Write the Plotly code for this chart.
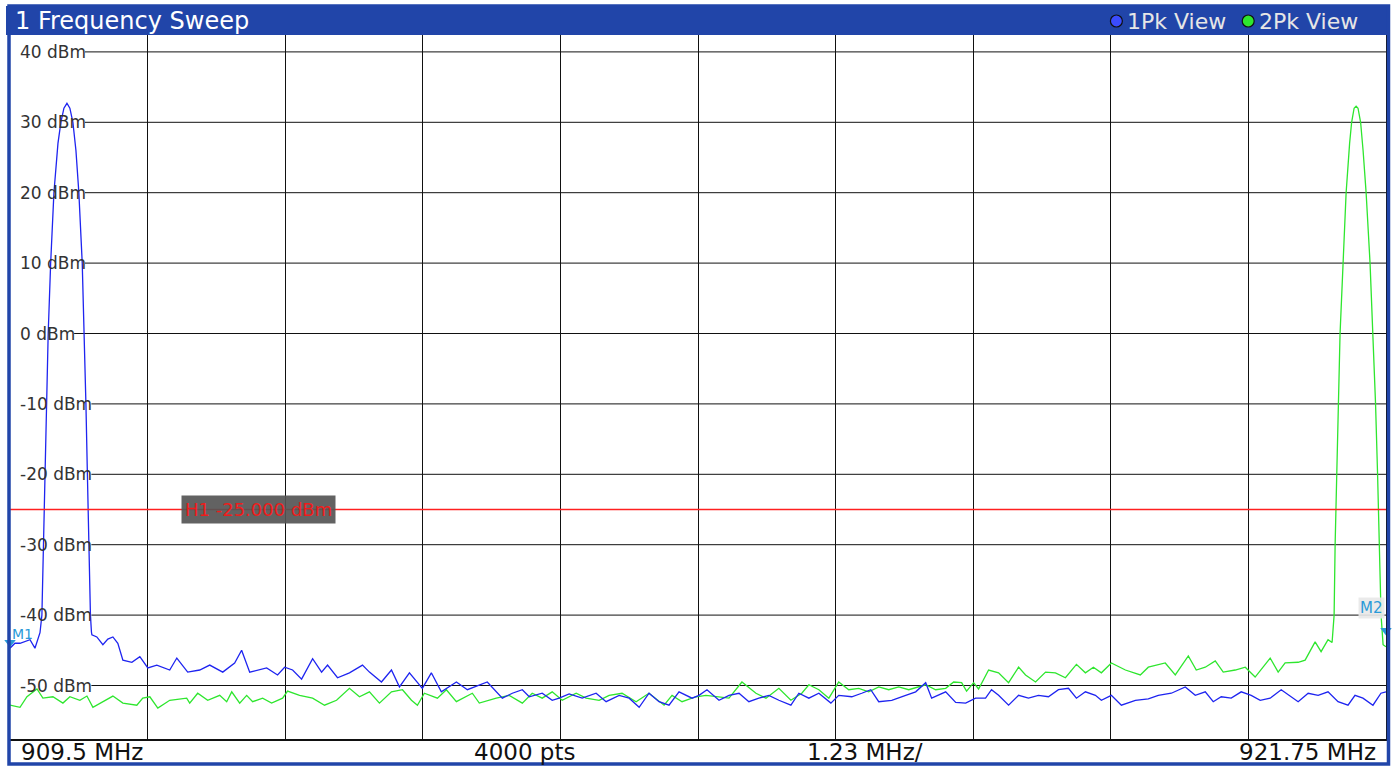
import plotly.graph_objects as go

# ---------------- data ----------------
f_start_mhz = 909.5
f_stop_mhz = 921.75
f_div_mhz = 1.225
y_min_dbm = -57.6
y_max_dbm = 42.4

y_tick_values = [40, 30, 20, 10, 0, -10, -20, -30, -40, -50]
y_tick_labels = [f"{v} dBm" for v in y_tick_values]

footer_labels = ["909.5 MHz", "4000 pts", "1.23 MHz/", "921.75 MHz"]
title_text = "1 Frequency Sweep"
trace_names = ["1Pk View", "2Pk View"]

h1_level_dbm = -25.0
h1_label = "H1 -25.000 dBm"

blue_freq_mhz = [
    909.500, 909.544, 909.589, 909.633, 909.678, 909.722, 909.758, 909.767, 909.784, 909.798,
    909.811, 909.820, 909.840, 909.862, 909.891, 909.927, 909.953, 909.980, 910.007, 910.033,
    910.060, 910.087, 910.113, 910.143, 910.161, 910.176, 910.189, 910.202, 910.216, 910.225,
    910.229, 910.273, 910.327, 910.371, 910.416, 910.460, 910.505, 910.585, 910.656, 910.727,
    910.807, 910.922, 910.985, 911.082, 911.189, 911.278, 911.394, 911.500, 911.562, 911.634,
    911.785, 911.882, 911.945, 912.016, 912.096, 912.194, 912.274, 912.327, 912.416, 912.522,
    912.638, 912.700, 912.807, 912.896, 912.967, 913.056, 913.171, 913.251, 913.340, 913.474,
    913.572, 913.749, 913.883, 913.972, 914.061, 914.123, 914.238, 914.327, 914.389, 914.478,
    914.594, 914.718, 914.807, 914.923, 915.012, 915.101, 915.189, 915.278, 915.367, 915.456,
    915.572, 915.634, 915.705, 915.812, 915.901, 915.990, 916.078, 916.167, 916.256, 916.345,
    916.452, 916.523, 916.612, 916.701, 916.808, 916.878, 916.994, 917.083, 917.163, 917.234,
    917.350, 917.474, 917.563, 917.652, 917.705, 917.830, 917.919, 918.008, 918.096, 918.185,
    918.238, 918.301, 918.390, 918.479, 918.567, 918.656, 918.745, 918.834, 918.923, 918.994,
    919.074, 919.163, 919.216, 919.305, 919.394, 919.519, 919.634, 919.723, 919.839, 919.963,
    920.052, 920.141, 920.212, 920.283, 920.372, 920.461, 920.550, 920.630, 920.719, 920.817,
    920.906, 920.968, 921.057, 921.146, 921.234, 921.323, 921.412, 921.474, 921.545, 921.634,
    921.705, 921.750,
]
blue_level_dbm = [
    -44.7, -44.0, -44.0, -43.7, -43.5, -44.7, -43.0, -42.5, -40.0, -30.0,
    -20.0, -10.0, 0.0, 10.0, 20.0, 27.0, 30.0, 32.0, 32.7, 32.0,
    30.0, 26.0, 20.0, 10.0, 0.0, -10.0, -20.0, -30.0, -40.0, -42.4,
    -42.8, -43.1, -44.2, -43.4, -43.1, -44.0, -46.4, -46.7, -45.9, -47.5,
    -47.1, -47.8, -46.1, -48.1, -47.8, -47.1, -48.1, -46.8, -45.0, -48.1,
    -47.5, -48.5, -47.4, -47.8, -49.1, -46.2, -48.1, -47.1, -48.9, -48.2,
    -47.1, -48.1, -49.5, -47.8, -50.2, -48.2, -50.4, -48.2, -50.9, -49.5,
    -50.6, -49.5, -51.8, -51.1, -50.6, -51.6, -51.1, -52.1, -51.8, -51.2,
    -51.8, -51.1, -52.3, -51.4, -51.8, -53.1, -51.1, -52.3, -52.8, -50.9,
    -51.8, -51.4, -50.6, -52.1, -51.4, -51.1, -52.3, -51.8, -51.4, -52.1,
    -52.8, -51.1, -51.8, -51.1, -52.5, -51.4, -51.6, -51.1, -50.6, -52.3,
    -52.1, -51.4, -50.9, -49.6, -51.8, -50.9, -52.4, -52.5, -51.8, -51.8,
    -50.6, -51.4, -52.8, -51.4, -51.8, -51.4, -51.6, -50.6, -50.4, -51.8,
    -50.9, -51.4, -52.1, -51.4, -52.8, -52.1, -51.9, -51.4, -51.1, -50.2,
    -51.4, -50.9, -52.3, -51.6, -51.8, -50.9, -51.4, -52.1, -51.8, -50.6,
    -51.6, -52.3, -51.1, -51.4, -50.9, -52.3, -52.8, -51.4, -51.8, -52.8,
    -51.1, -50.9,
]

green_freq_mhz = [
    909.500, 909.589, 909.651, 909.740, 909.793, 909.882, 909.971, 910.033, 910.122, 910.185,
    910.238, 910.327, 910.416, 910.505, 910.629, 910.682, 910.745, 910.816, 910.922, 911.073,
    911.100, 911.171, 911.260, 911.367, 911.429, 911.474, 911.545, 911.607, 911.660, 911.749,
    911.829, 911.927, 911.971, 912.078, 912.194, 912.300, 912.407, 912.522, 912.611, 912.700,
    912.789, 912.896, 912.994, 913.074, 913.127, 913.189, 913.305, 913.385, 913.474, 913.616,
    913.678, 913.829, 913.945, 914.061, 914.149, 914.238, 914.327, 914.416, 914.540, 914.629,
    914.745, 914.834, 914.949, 915.074, 915.189, 915.323, 915.394, 915.483, 915.607, 915.696,
    915.812, 915.901, 916.016, 916.141, 916.230, 916.345, 916.452, 916.549, 916.612, 916.701,
    916.790, 916.878, 916.967, 917.056, 917.145, 917.234, 917.323, 917.412, 917.501, 917.652,
    917.741, 917.830, 917.901, 917.972, 918.016, 918.079, 918.123, 918.212, 918.301, 918.390,
    918.479, 918.541, 918.630, 918.719, 918.807, 918.896, 918.994, 919.074, 919.145, 919.216,
    919.305, 919.430, 919.563, 919.634, 919.785, 919.874, 919.990, 920.061, 920.141, 920.230,
    920.301, 920.408, 920.497, 920.585, 920.719, 920.790, 920.852, 920.968, 921.030, 921.119,
    921.172, 921.234, 921.270, 921.288, 921.297, 921.310, 921.324, 921.341, 921.368, 921.395,
    921.426, 921.444, 921.466, 921.484, 921.501, 921.524, 921.546, 921.573, 921.608, 921.635,
    921.657, 921.675, 921.688, 921.706, 921.724, 921.750,
]
green_level_dbm = [
    -52.8, -53.1, -51.6, -50.5, -51.8, -51.6, -52.5, -51.6, -52.1, -51.5,
    -53.1, -52.3, -51.5, -52.5, -52.8, -51.8, -51.6, -53.2, -52.1, -51.8,
    -52.5, -51.1, -52.1, -51.4, -52.3, -50.9, -52.5, -51.4, -52.3, -51.8,
    -52.5, -51.8, -50.8, -51.4, -51.8, -52.8, -52.1, -50.4, -51.6, -50.9,
    -52.5, -50.9, -50.6, -52.1, -52.8, -51.1, -51.8, -50.6, -52.3, -51.1,
    -52.5, -51.8, -51.4, -52.5, -51.1, -51.8, -50.9, -52.1, -51.1, -51.8,
    -52.1, -51.4, -51.1, -52.3, -51.1, -52.8, -51.4, -52.3, -51.6, -51.4,
    -51.6, -51.8, -49.5, -51.1, -51.8, -50.4, -52.1, -51.1, -49.9, -50.6,
    -51.8, -49.5, -50.6, -50.4, -50.9, -50.2, -50.6, -50.2, -50.6, -49.9,
    -50.6, -50.4, -49.5, -49.6, -50.8, -49.6, -50.5, -47.8, -48.2, -49.6,
    -47.4, -48.5, -49.5, -48.1, -48.2, -48.9, -47.0, -48.2, -47.4, -48.2,
    -46.8, -47.8, -48.5, -47.4, -46.8, -48.5, -45.8, -47.8, -47.4, -46.5,
    -48.1, -47.8, -47.4, -48.8, -46.1, -48.1, -46.8, -46.7, -46.4, -43.8,
    -45.2, -43.5, -43.9, -40.0, -30.0, -20.0, -10.0, 0.0, 10.0, 20.0,
    27.0, 30.0, 32.0, 32.3, 32.0, 30.0, 26.0, 20.0, 10.0, 0.0,
    -10.0, -20.0, -30.0, -40.0, -44.2, -44.5,
]

marker_names = ["M1", "M2"]
marker_freq_mhz = [909.5, 921.75]
marker_level_dbm = [-43.9, -42.2]
marker_label_level_dbm = [-42.7, -39.0]

# ---------------- styling ----------------
W, H = 1396, 767
PL, PR, PT, PB = 10, 1388, 35, 739     # plot area in pixels
HEADER_BLUE = "#2145a9"
BLUE = "#1e24f0"
GREEN = "#2ee62e"
MARKER_BLUE = "#2a9ad8"
FONT = "DejaVu Sans"


def px(xp):
    return (xp - PL) / (PR - PL)


def py(yp):
    return (PB - yp) / (PB - PT)


fig = go.Figure()

fig.add_trace(go.Scatter(x=green_freq_mhz, y=green_level_dbm, mode="lines",
                         line=dict(color=GREEN, width=1.3), name=trace_names[1],
                         hoverinfo="skip"))
fig.add_trace(go.Scatter(x=blue_freq_mhz, y=blue_level_dbm, mode="lines",
                         line=dict(color=BLUE, width=1.3), name=trace_names[0],
                         hoverinfo="skip"))
fig.add_trace(go.Scatter(x=marker_freq_mhz, y=marker_level_dbm, mode="markers",
                         marker=dict(symbol="triangle-down", size=10, color=MARKER_BLUE),
                         cliponaxis=False, hoverinfo="skip"))

shapes = []
annotations = []

# horizontal grid lines start after their labels
char_w = {"-": 0.38, " ": 0.318, "d": 0.635, "B": 0.686, "m": 0.974}
TICK_FS = 17
for v, lab in zip(y_tick_values, y_tick_labels):
    wpx = sum(char_w.get(c, 0.636) for c in lab) * TICK_FS
    shapes.append(dict(type="line", xref="paper", yref="y", x0=px(18 + wpx + 1), x1=1,
                       y0=v, y1=v, line=dict(color="#111111", width=1), layer="below"))
    annotations.append(dict(xref="paper", yref="y", x=px(18), y=v, text=lab, showarrow=False,
                            xanchor="left", yanchor="middle",
                            font=dict(family=FONT, size=TICK_FS, color="#333333")))

# H1 line
shapes.append(dict(type="line", xref="paper", yref="y", x0=0, x1=1, y0=h1_level_dbm,
                   y1=h1_level_dbm, line=dict(color="#ff2020", width=1.5), layer="above"))
annotations.append(dict(xref="paper", yref="y", x=px(181), y=h1_level_dbm, text=h1_label,
                        showarrow=False, xanchor="left", yanchor="middle",
                        bgcolor="rgba(85,85,85,0.92)", borderpad=3,
                        font=dict(family=FONT, size=18, color="#ee1c1c")))

# header bar and frame
shapes.append(dict(type="rect", xref="paper", yref="paper", x0=px(6), x1=px(1392),
                   y0=py(35), y1=py(6), fillcolor=HEADER_BLUE, line=dict(width=0)))
shapes.append(dict(type="rect", xref="paper", yref="paper", x0=px(9), x1=px(1390.5),
                   y0=py(764), y1=py(6), line=dict(color=HEADER_BLUE, width=3.5)))

annotations.append(dict(xref="paper", yref="paper", x=px(13), y=py(21), text=title_text,
                        showarrow=False, xanchor="left", yanchor="middle",
                        font=dict(family=FONT, size=24, color="white")))

# legend in header
for cx, col, name in [(1118, "#3a4cff", trace_names[0]), (1250, "#2ee62e", trace_names[1])]:
    shapes.append(dict(type="circle", xref="paper", yref="paper",
                       x0=px(cx - 6), x1=px(cx + 6), y0=py(27), y1=py(15),
                       fillcolor=col, line=dict(color="#101010", width=1.2)))
    annotations.append(dict(xref="paper", yref="paper", x=px(cx + 9), y=py(21), text=name,
                            showarrow=False, xanchor="left", yanchor="middle",
                            font=dict(family=FONT, size=22, color="#e6e6e6")))

# marker labels
annotations.append(dict(xref="paper", yref="y", x=px(10), y=marker_label_level_dbm[0],
                        text=marker_names[0], showarrow=False, xanchor="left",
                        yanchor="middle", font=dict(family=FONT, size=14, color=MARKER_BLUE)))
annotations.append(dict(xref="paper", yref="y", x=px(1387), y=marker_label_level_dbm[1],
                        text=marker_names[1], showarrow=False, xanchor="right",
                        yanchor="middle", bgcolor="rgba(232,232,232,0.9)", borderpad=1,
                        font=dict(family=FONT, size=15, color=MARKER_BLUE)))

# footer
footer_pos = [(px(19), "left"), (px(525), "center"), (px(866), "center"), (px(1380), "right")]
for (fx, anc), txt in zip(footer_pos, footer_labels):
    annotations.append(dict(xref="paper", yref="paper", x=fx, y=py(751.5), text=txt,
                            showarrow=False, xanchor=anc, yanchor="middle",
                            font=dict(family=FONT, size=23, color="#111111")))

fig.update_layout(
    width=W, height=H, autosize=False,
    margin=dict(l=PL, r=W - PR, t=PT, b=H - PB, pad=0),
    paper_bgcolor="white", plot_bgcolor="white",
    showlegend=False,
    shapes=shapes, annotations=annotations,
    xaxis=dict(range=[f_start_mhz, f_stop_mhz], tick0=f_start_mhz, dtick=f_div_mhz,
               showgrid=True, gridcolor="#111111", gridwidth=1, zeroline=False,
               showticklabels=False, ticks="", showline=True, mirror=True,
               linecolor="#111111", linewidth=1.5),
    yaxis=dict(range=[y_min_dbm, y_max_dbm], showgrid=False, zeroline=False,
               showticklabels=False, ticks="", showline=True, mirror=True,
               linecolor="#111111", linewidth=1.5),
)

fig.write_html("out.html", config={"displayModeBar": False},
               post_script="document.body.style.margin='0';")
